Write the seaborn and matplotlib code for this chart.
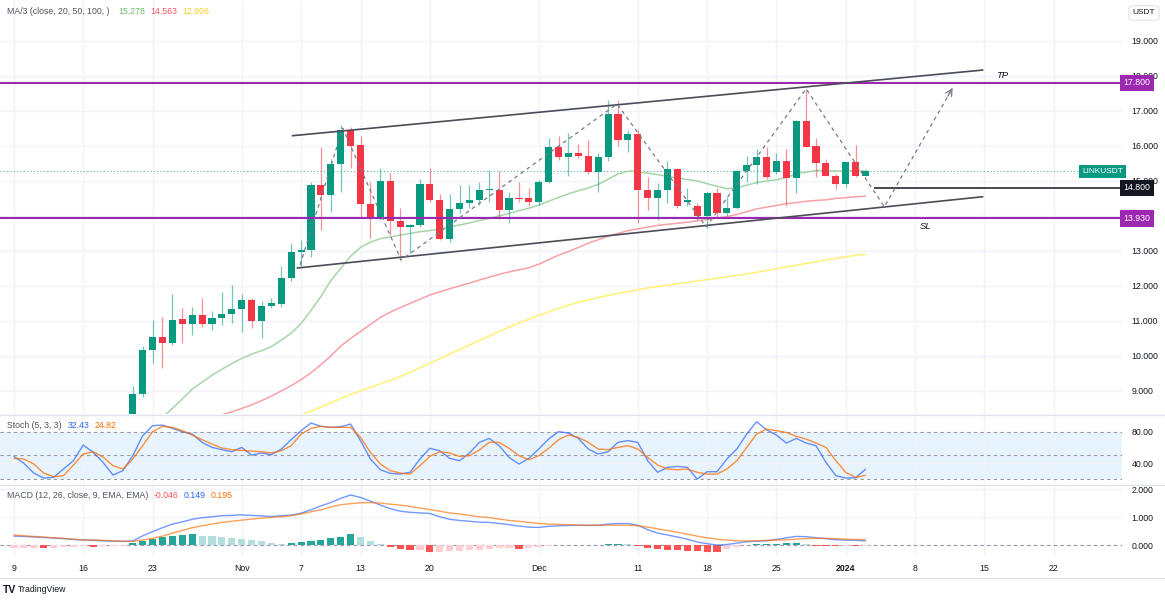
import numpy as np
import pandas as pd
import matplotlib
matplotlib.use("Agg")
import matplotlib.pyplot as plt
import seaborn as sns
from matplotlib.transforms import blended_transform_factory as btf
from matplotlib.lines import Line2D

# ---------------- DATA ----------------
start_date = "2023-10-09"

opens = [7.20, 7.05, 7.20, 7.15, 7.05, 7.00, 7.30, 7.55, 7.45, 7.30, 7.40, 7.60,
         8.15, 8.91, 10.17, 10.55, 10.36, 11.05, 10.91, 11.17, 10.91, 11.07,
         11.20, 11.33, 11.60, 11.00, 11.43, 11.48, 12.22, 12.98, 13.03, 14.89,
         14.60, 15.49, 16.46, 16.03, 14.34, 13.91, 15.00, 13.86, 13.69, 13.74,
         14.91, 14.46, 13.34, 14.19, 14.38, 14.46, 14.74, 14.74, 14.17, 14.52,
         14.50, 14.41, 14.98, 15.98, 15.69, 15.81, 15.72, 15.25, 15.67, 16.90,
         16.17, 16.34, 14.74, 14.51, 14.74, 15.34, 14.41, 14.29, 14.00, 14.65,
         14.08, 14.22, 15.29, 15.46, 15.68, 15.25, 15.57, 15.08, 16.71, 16.00,
         15.52, 15.15, 14.91, 15.55, 15.15]
highs = [7.35, 7.30, 7.35, 7.25, 7.15, 7.40, 7.65, 7.70, 7.55, 7.45, 7.70, 8.25,
         9.14, 10.27, 11.03, 11.12, 11.76, 11.36, 11.41, 11.65, 11.29, 11.84,
         12.03, 11.76, 11.65, 11.57, 11.65, 12.57, 13.24, 13.31, 14.98, 15.98,
         15.62, 16.60, 16.55, 16.29, 14.96, 15.38, 15.22, 14.24, 13.78, 15.06,
         15.38, 14.62, 14.62, 14.89, 14.89, 14.96, 15.31, 15.29, 14.69, 14.98,
         14.81, 15.02, 16.22, 16.27, 16.36, 16.05, 16.17, 15.79, 17.31, 17.31,
         16.46, 16.46, 15.12, 14.93, 15.57, 15.36, 14.79, 14.38, 14.68, 14.79,
         14.55, 15.31, 15.72, 15.92, 15.96, 15.79, 15.90, 16.74, 17.62, 16.22,
         15.62, 15.20, 15.55, 16.03, 15.35]
lows = [6.95, 6.95, 7.05, 6.95, 6.90, 6.95, 7.25, 7.35, 7.20, 7.20, 7.35, 7.55,
        8.05, 8.84, 9.79, 9.65, 10.30, 10.36, 10.60, 10.84, 10.74, 10.89,
        10.94, 10.67, 10.79, 10.50, 11.38, 11.40, 12.15, 12.55, 12.84, 13.60,
        14.12, 14.69, 15.38, 13.93, 13.36, 13.88, 13.46, 12.74, 12.95, 13.68,
        14.40, 13.30, 13.26, 14.08, 14.22, 14.31, 14.41, 13.91, 13.79, 14.40,
        14.27, 14.31, 14.95, 15.60, 15.13, 15.65, 15.19, 14.68, 15.57, 16.01,
        15.84, 13.79, 14.17, 13.89, 14.36, 14.24, 14.27, 13.89, 13.65, 13.93,
        14.00, 14.20, 14.98, 14.92, 15.05, 15.20, 14.29, 14.65, 15.98, 15.12,
        15.14, 14.76, 14.82, 15.12, 15.14]
closes = [7.05, 7.20, 7.15, 7.05, 7.00, 7.30, 7.55, 7.45, 7.30, 7.40, 7.60, 8.15,
          8.91, 10.17, 10.55, 10.36, 11.03, 10.91, 11.17, 10.91, 11.07, 11.20,
          11.33, 11.60, 11.00, 11.43, 11.50, 12.22, 12.98, 13.03, 14.89, 14.60,
          15.49, 16.46, 16.01, 14.34, 13.91, 15.00, 13.86, 13.69, 13.74, 14.91,
          14.46, 13.34, 14.19, 14.38, 14.46, 14.74, 14.76, 14.17, 14.50, 14.47,
          14.41, 14.98, 15.98, 15.69, 15.79, 15.71, 15.25, 15.67, 16.90, 16.17,
          16.34, 14.74, 14.51, 14.74, 15.34, 14.27, 14.46, 14.00, 14.65, 14.08,
          14.22, 15.29, 15.46, 15.68, 15.10, 15.57, 15.08, 16.71, 15.98, 15.52,
          15.14, 14.91, 15.55, 15.15, 15.28]

ma20 = [6.95, 6.95, 6.96, 6.97, 6.98, 7.00, 7.03, 7.06, 7.10, 7.15, 7.22,
        7.30, 7.50, 7.75, 8.00, 8.25, 8.50, 8.77, 9.05, 9.25, 9.45,
        9.62, 9.78, 9.93, 10.05, 10.15, 10.27, 10.45, 10.65, 10.93, 11.30,
        11.70, 12.15, 12.50, 12.85, 13.10, 13.25, 13.35, 13.40, 13.45, 13.50,
        13.55, 13.58, 13.63, 13.69, 13.74, 13.80, 13.87, 13.93, 14.00, 14.07,
        14.15, 14.22, 14.31, 14.42, 14.53, 14.63, 14.72, 14.80, 14.90, 15.05,
        15.20, 15.28, 15.27, 15.22, 15.18, 15.13, 15.08, 15.04, 15.00, 14.92,
        14.85, 14.78, 14.80, 14.88, 14.95, 15.00, 15.03, 15.10, 15.20, 15.25,
        15.30, 15.30, 15.28, 15.28, 15.30, 15.278]
ma50 = [7.10, 7.13, 7.16, 7.19, 7.22, 7.26, 7.30, 7.35, 7.40, 7.45, 7.50,
        7.56, 7.63, 7.70, 7.78, 7.86, 7.94, 8.02, 8.10, 8.18, 8.25,
        8.32, 8.40, 8.50, 8.60, 8.72, 8.85, 9.00, 9.15, 9.32, 9.52,
        9.75, 10.00, 10.28, 10.50, 10.70, 10.90, 11.10, 11.25, 11.38, 11.50,
        11.62, 11.74, 11.83, 11.92, 12.00, 12.08, 12.17, 12.25, 12.33, 12.40,
        12.46, 12.52, 12.62, 12.75, 12.88, 12.98, 13.10, 13.22, 13.32, 13.42,
        13.50, 13.58, 13.63, 13.68, 13.73, 13.76, 13.79, 13.82, 13.86, 13.90,
        13.94, 13.98, 14.04, 14.12, 14.20, 14.25, 14.30, 14.35, 14.38, 14.42,
        14.44, 14.46, 14.50, 14.52, 14.55, 14.563]
ma100 = [6.30, 6.34, 6.38, 6.42, 6.46, 6.50, 6.54, 6.58, 6.63, 6.68, 6.73,
         6.78, 6.83, 6.89, 6.95, 7.01, 7.08, 7.15, 7.22, 7.30, 7.38,
         7.46, 7.55, 7.64, 7.74, 7.84, 7.95, 8.06, 8.18, 8.30, 8.42,
         8.54, 8.66, 8.78, 8.90, 9.00, 9.10, 9.20, 9.30, 9.41, 9.53,
         9.66, 9.79, 9.92, 10.05, 10.18, 10.31, 10.44, 10.57, 10.70, 10.82,
         10.94, 11.05, 11.16, 11.26, 11.36, 11.45, 11.53, 11.60, 11.67, 11.73,
         11.79, 11.84, 11.89, 11.94, 11.98, 12.02, 12.06, 12.10, 12.14, 12.18,
         12.22, 12.26, 12.30, 12.34, 12.39, 12.44, 12.49, 12.54, 12.59, 12.64,
         12.69, 12.74, 12.79, 12.83, 12.87, 12.906]

stoch_k = [48.7, 39.9, 27.6, 21.3, 22.1, 32.7, 43.2, 63.1, 53.8, 41.1, 25.1,
           30.6, 49.6, 74.9, 87.6, 88.4, 84.2, 80.0, 77.0, 66.5, 60.1,
           57.2, 54.6, 60.1, 50.4, 53.0, 50.8, 58.0, 69.9, 81.3, 91.0,
           86.8, 85.5, 86.3, 89.7, 68.6, 45.4, 31.8, 27.2, 26.3, 28.5,
           45.4, 58.9, 55.9, 46.2, 43.2, 53.0, 66.5, 71.5, 62.3, 47.5,
           39.0, 46.2, 58.0, 70.7, 80.0, 78.3, 71.5, 58.0, 51.7, 54.6,
           66.5, 68.7, 66.5, 43.2, 28.5, 34.8, 36.0, 34.8, 20.0, 29.3,
           29.3, 45.4, 58.0, 77.0, 92.7, 82.5, 75.8, 65.6, 71.5, 65.6,
           62.3, 41.1, 24.2, 21.3, 21.7, 32.43]
stoch_d = [46.2, 45.4, 39.0, 27.6, 23.0, 24.2, 37.7, 51.7, 54.6, 47.9, 36.9,
           32.7, 45.4, 62.3, 80.0, 86.8, 85.5, 81.3, 75.8, 69.9, 64.4,
           59.3, 57.2, 56.3, 55.5, 54.6, 53.0, 55.9, 62.3, 77.0, 84.2,
           86.8, 85.5, 85.5, 85.5, 72.8, 53.8, 39.0, 30.6, 27.6, 26.3,
           36.9, 48.7, 54.6, 53.0, 48.7, 49.6, 56.8, 66.5, 66.5, 58.9,
           49.6, 44.5, 49.6, 58.9, 69.9, 75.8, 72.8, 66.5, 58.0, 57.2,
           60.1, 62.3, 58.0, 47.5, 37.7, 32.7, 31.8, 32.7, 28.5, 26.3,
           26.3, 32.7, 43.2, 60.1, 77.0, 83.4, 81.3, 79.1, 74.1, 70.7,
           65.6, 60.1, 43.2, 28.5, 22.1, 24.82]

macd_line = [0.32, 0.31, 0.29, 0.27, 0.25, 0.23, 0.20, 0.18, 0.17, 0.15, 0.14,
             0.13, 0.15, 0.33, 0.48, 0.62, 0.75, 0.83, 0.92, 0.98, 1.01,
             1.05, 1.06, 1.08, 1.06, 1.04, 1.02, 1.05, 1.07, 1.14, 1.26,
             1.40, 1.52, 1.67, 1.79, 1.70, 1.57, 1.43, 1.30, 1.21, 1.17,
             1.15, 1.13, 1.01, 0.92, 0.88, 0.85, 0.82, 0.81, 0.77, 0.73,
             0.68, 0.64, 0.63, 0.67, 0.69, 0.70, 0.71, 0.70, 0.71, 0.75,
             0.77, 0.77, 0.71, 0.55, 0.43, 0.36, 0.29, 0.21, 0.11, 0.05,
             0.00, 0.02, 0.07, 0.12, 0.14, 0.15, 0.20, 0.26, 0.31, 0.30,
             0.26, 0.23, 0.19, 0.18, 0.17, 0.149]
signal_line = [0.36, 0.33, 0.31, 0.29, 0.26, 0.24, 0.21, 0.19, 0.18, 0.17, 0.15,
               0.14, 0.13, 0.18, 0.24, 0.32, 0.43, 0.52, 0.62, 0.69, 0.75,
               0.81, 0.85, 0.89, 0.93, 0.96, 0.99, 1.01, 1.05, 1.11, 1.19,
               1.26, 1.36, 1.44, 1.48, 1.51, 1.52, 1.50, 1.46, 1.43, 1.38,
               1.32, 1.27, 1.21, 1.15, 1.11, 1.06, 1.01, 0.98, 0.93, 0.88,
               0.85, 0.81, 0.77, 0.75, 0.74, 0.73, 0.71, 0.71, 0.71, 0.71,
               0.71, 0.71, 0.69, 0.64, 0.58, 0.52, 0.46, 0.39, 0.32, 0.26,
               0.21, 0.18, 0.15, 0.15, 0.15, 0.17, 0.18, 0.19, 0.21, 0.23,
               0.24, 0.24, 0.23, 0.21, 0.20, 0.195]
macd_hist = [-0.10, -0.10, -0.10, -0.11, -0.10, -0.07, -0.06, -0.05, -0.06, -0.04, -0.03,
             -0.02, 0.06, 0.14, 0.22, 0.28, 0.33, 0.37, 0.39, 0.34, 0.31,
             0.28, 0.25, 0.21, 0.17, 0.13, 0.08, 0.05, 0.07, 0.10, 0.14,
             0.19, 0.24, 0.30, 0.38, 0.28, 0.14, 0.03, -0.08, -0.15, -0.19,
             -0.17, -0.26, -0.24, -0.22, -0.20, -0.18, -0.16, -0.13, -0.11, -0.10,
             -0.14, -0.10, -0.06, -0.03, 0.01, 0.01, 0.02, 0.01, 0.02, 0.03,
             0.04, 0.03, -0.05, -0.12, -0.15, -0.17, -0.18, -0.20, -0.22, -0.24,
             -0.26, -0.14, -0.06, 0.02, 0.03, 0.04, 0.05, 0.08, 0.09, 0.04,
             -0.02, -0.04, -0.05, -0.04, -0.05, -0.046]

tick_dates = ["2023-10-09", "2023-10-16", "2023-10-23", "2023-11-01", "2023-11-07",
              "2023-11-13", "2023-11-20", "2023-12-01", "2023-12-11", "2023-12-18",
              "2023-12-25", "2024-01-01", "2024-01-08", "2024-01-15", "2024-01-22"]
tick_labels = ["9", "16", "23", "Nov", "7", "13", "20", "Dec", "11", "18", "25",
               "2024", "8", "15", "22"]

price_ticks = [9, 10, 11, 12, 13, 14, 15, 16, 17, 18, 19]
hidden_price_labels = [14]          # fully covered by the 13.930 box in the reference
level_tp = 17.800
level_entry = 14.800
level_sl = 13.930
last_price = 15.278

# trend-channel drawings: (day offset from start, price)
channel_top = [(28.05, 16.29), (97.9, 18.17)]
channel_bottom = [(28.55, 12.51), (97.9, 14.55)]
zigzag_days = [28.9, 33.2, 39.1, 60.9, 69.9, 80.0, 87.9, 94.8]
zigzag_prices = [12.60, 16.51, 12.74, 17.20, 13.69, 17.63, 14.26, 17.66]
entry_line_from = 86.9
tp_text = (99.2, 18.02)
sl_text = (91.5, 13.69)

# ---------------- STYLE ----------------
sns.set_theme(style="white")
plt.rcParams["font.family"] = ["Liberation Sans", "DejaVu Sans"]

UP, DOWN = "#089981", "#f23645"
GRID = "#f0f3fa"
TXT = "#131722"
FS = 6.3

W, H = 1165, 604
fig = plt.figure(figsize=(W / 100, H / 100), dpi=100)
fig.patch.set_facecolor("white")


def axes_px(x0, y0, x1, y1):
    return fig.add_axes([x0 / W, 1 - y1 / H, (x1 - x0) / W, (y1 - y0) / H])


ax_p = axes_px(0, 0, 1122, 414)
ax_s = axes_px(0, 416, 1122, 484)
ax_m = axes_px(0, 486, 1122, 556)

start = pd.Timestamp(start_date)
dates = pd.date_range(start, periods=len(closes), freq="D")
day = lambda off: start + pd.to_timedelta(off, unit="D")
x_left, x_right = day(-1.41), day(111.9)
tdates = pd.to_datetime(tick_dates)

for ax in (ax_p, ax_s, ax_m):
    ax.set_facecolor("white")
    for sp in ax.spines.values():
        sp.set_visible(False)
    ax.set_xlim(x_left, x_right)
    ax.set_xticks(tdates)
    ax.grid(True, axis="x", color=GRID, lw=1)
    ax.grid(True, axis="y", color=GRID, lw=1)
    ax.set_axisbelow(True)
    ax.yaxis.tick_right()
    ax.tick_params(axis="y", length=0, pad=7, labelsize=FS, labelcolor=TXT)
    ax.tick_params(axis="x", length=0)

ax_p.set_xticklabels([])
ax_s.set_xticklabels([])

# ---------------- PRICE PANE ----------------
ax_p.set_ylim(8.34, 20.17)
ax_p.set_yticks(price_ticks)
ax_p.set_yticklabels(["" if v in hidden_price_labels else f"{v:.3f}" for v in price_ticks])

o = np.array(opens); c = np.array(closes); hi = np.array(highs); lo = np.array(lows)
cols = np.where(c >= o, UP, DOWN)
ax_p.vlines(dates, lo, hi, colors=cols, lw=0.9, alpha=0.55, zorder=3)
ax_p.bar(dates, np.maximum(np.abs(c - o), 0.03), bottom=np.minimum(o, c),
         width=0.72, color=cols, linewidth=0, zorder=4)

df = pd.DataFrame({"date": dates, "ma20": ma20, "ma50": ma50, "ma100": ma100,
                   "k": stoch_k, "d": stoch_d, "macd": macd_line,
                   "signal": signal_line, "hist": macd_hist})
sns.lineplot(data=df, x="date", y="ma20", ax=ax_p, color="#a5d6a7", lw=1.1, zorder=2)
sns.lineplot(data=df, x="date", y="ma50", ax=ax_p, color="#f7a1a5", lw=1.1, zorder=2)
sns.lineplot(data=df, x="date", y="ma100", ax=ax_p, color="#fff176", lw=1.1, zorder=2)
ax_p.set_xlabel(""); ax_p.set_ylabel("")

# level lines
ax_p.axhline(level_tp, color="#9c27b0", lw=1.5, zorder=5)
ax_p.axhline(level_sl, color="#9c27b0", lw=1.5, zorder=5)
ax_p.hlines(level_entry, day(entry_line_from), x_right, color="#131722", lw=1.1, zorder=5)
ax_p.axhline(last_price, color=UP, lw=0.8, ls=(0, (1, 2)), alpha=0.7, zorder=1)

# channel
for seg in (channel_top, channel_bottom):
    ax_p.plot([day(seg[0][0]), day(seg[1][0])], [seg[0][1], seg[1][1]],
              color="#4a4d57", lw=1.2, zorder=6, solid_capstyle="butt")

zz_x = [day(v) for v in zigzag_days]
ax_p.plot(zz_x, zigzag_prices, color="#787b86", lw=0.9, ls=(0, (3, 3)), zorder=6)
frac = 0.93
ax_p.annotate("", xy=(zz_x[-1], zigzag_prices[-1]),
              xytext=(day(zigzag_days[-2] + frac * (zigzag_days[-1] - zigzag_days[-2])),
                      zigzag_prices[-2] + frac * (zigzag_prices[-1] - zigzag_prices[-2])),
              arrowprops=dict(arrowstyle="->", color="#787b86", lw=0.9,
                              shrinkA=0, shrinkB=0), zorder=6)

ax_p.text(day(tp_text[0]), tp_text[1], "TP", fontsize=FS + 0.5, style="italic",
          color=TXT, va="center", ha="left")
ax_p.text(day(sl_text[0]), sl_text[1], "SL", fontsize=FS + 0.5, style="italic",
          color=TXT, va="center", ha="left")

tr = btf(ax_p.transAxes, ax_p.transData)


def price_box(ax, y, s, fc):
    t = btf(ax.transAxes, ax.transData)
    ax.text(1.0015, y, s, transform=t, fontsize=FS, color="white", va="center",
            ha="left", zorder=10, clip_on=False,
            bbox=dict(boxstyle="square,pad=0.42", fc=fc, ec="none"))


price_box(ax_p, level_tp, f"{level_tp:.3f}", "#9c27b0")
price_box(ax_p, level_entry, f"{level_entry:.3f}", "#131722")
price_box(ax_p, level_sl, f"{level_sl:.3f}", "#9c27b0")
ax_p.text(0.9645, last_price, "LINKUSDT", transform=tr, fontsize=FS - 0.3,
          color="white", va="center", ha="left", zorder=10,
          bbox=dict(boxstyle="square,pad=0.35", fc=UP, ec="none"))

# ---------------- STOCH PANE ----------------
ax_s.set_ylim(13.7, 99.9)
ax_s.set_yticks([40, 80])
ax_s.set_yticklabels(["40.00", "80.00"])
ax_s.axhspan(20, 80, color="#2196f3", alpha=0.1, lw=0, zorder=0)
for lvl in (20, 50, 80):
    ax_s.axhline(lvl, color="#9598a1", lw=0.8, ls=(0, (3, 3)), zorder=1)
sns.lineplot(data=df, x="date", y="k", ax=ax_s, color="#2962ff", alpha=0.7, lw=1.0, zorder=3)
sns.lineplot(data=df, x="date", y="d", ax=ax_s, color="#ff6d00", alpha=0.75, lw=1.0, zorder=3)
ax_s.set_xlabel(""); ax_s.set_ylabel("")

# ---------------- MACD PANE ----------------
ax_m.set_ylim(-0.39, 2.11)
ax_m.set_yticks([0, 1, 2])
ax_m.set_yticklabels(["0.000", "1.000", "2.000"])
ax_m.axhline(0, color="#9598a1", lw=0.8, ls=(0, (3, 3)), zorder=1)
hcols = []
for i, v in enumerate(macd_hist):
    prev = macd_hist[i - 1] if i > 0 else v
    if v >= 0:
        hcols.append("#26a69a" if v >= prev else "#b2dfdb")
    else:
        hcols.append("#ffcdd2" if v >= prev else "#ff5252")
ax_m.bar(dates, macd_hist, width=0.72, color=hcols, linewidth=0, zorder=2)
sns.lineplot(data=df, x="date", y="macd", ax=ax_m, color="#2962ff", alpha=0.65, lw=1.0, zorder=3)
sns.lineplot(data=df, x="date", y="signal", ax=ax_m, color="#ff6d00", alpha=0.65, lw=1.0, zorder=3)
ax_m.set_xlabel(""); ax_m.set_ylabel("")
ax_m.set_xticklabels(tick_labels)
ax_m.tick_params(axis="x", labelsize=FS, labelcolor=TXT, pad=5.5)
ax_m.get_xticklabels()[tick_labels.index("2024")].set_fontweight("bold")

# ---------------- FRAME / LEGENDS ----------------
for yy in (415, 485, 578):
    fig.add_artist(Line2D([0, 1], [1 - yy / H] * 2, transform=fig.transFigure,
                          color="#e0e3eb", lw=1.0))

renderer = fig.canvas.get_renderer()


def legend_row(y, items):
    """items: list of (preferred x px, text, colour); keeps texts from overlapping."""
    prev_end = -1e9
    for x, s, col in items:
        x = max(x, prev_end + 5)
        t = fig.text(x / W, 1 - y / H, s, color=col, fontsize=FS, va="center", ha="left")
        bb = t.get_window_extent(renderer)
        prev_end = bb.x1


legend_row(12, [(7, "MA/3 (close, 20, 50, 100, )", "#50535e"),
                (118, f"{ma20[-1]:.3f}", "#66bb6a"),
                (149, f"{ma50[-1]:.3f}", "#f7525f"),
                (180, f"{ma100[-1]:.3f}", "#f2d024")])
legend_row(425, [(7, "Stoch (5, 3, 3)", "#50535e"),
                 (68, f"{stoch_k[-1]:.2f}", "#2962ff"),
                 (95, f"{stoch_d[-1]:.2f}", "#ff6d00")])
legend_row(495, [(7, "MACD (12, 26, close, 9, EMA, EMA)", "#50535e"),
                 (148, f"{macd_hist[-1]:.3f}", "#ff5252"),
                 (178, f"{macd_line[-1]:.3f}", "#2962ff"),
                 (199, f"{signal_line[-1]:.3f}", "#ff6d00")])

fig.text(1144 / W, 1 - 13 / H, "USDT", fontsize=FS - 0.3, color=TXT, ha="center", va="center",
         bbox=dict(boxstyle="round,pad=0.45", fc="white", ec="#e0e3eb", lw=0.8))

fig.text(3 / W, 1 - 590 / H, "TV", fontsize=7.5, fontweight="bold", color=TXT,
         ha="left", va="center")
fig.text(18 / W, 1 - 590 / H, "TradingView", fontsize=FS, color=TXT, ha="left", va="center")

fig.savefig("out.png", dpi=100, facecolor="white")
